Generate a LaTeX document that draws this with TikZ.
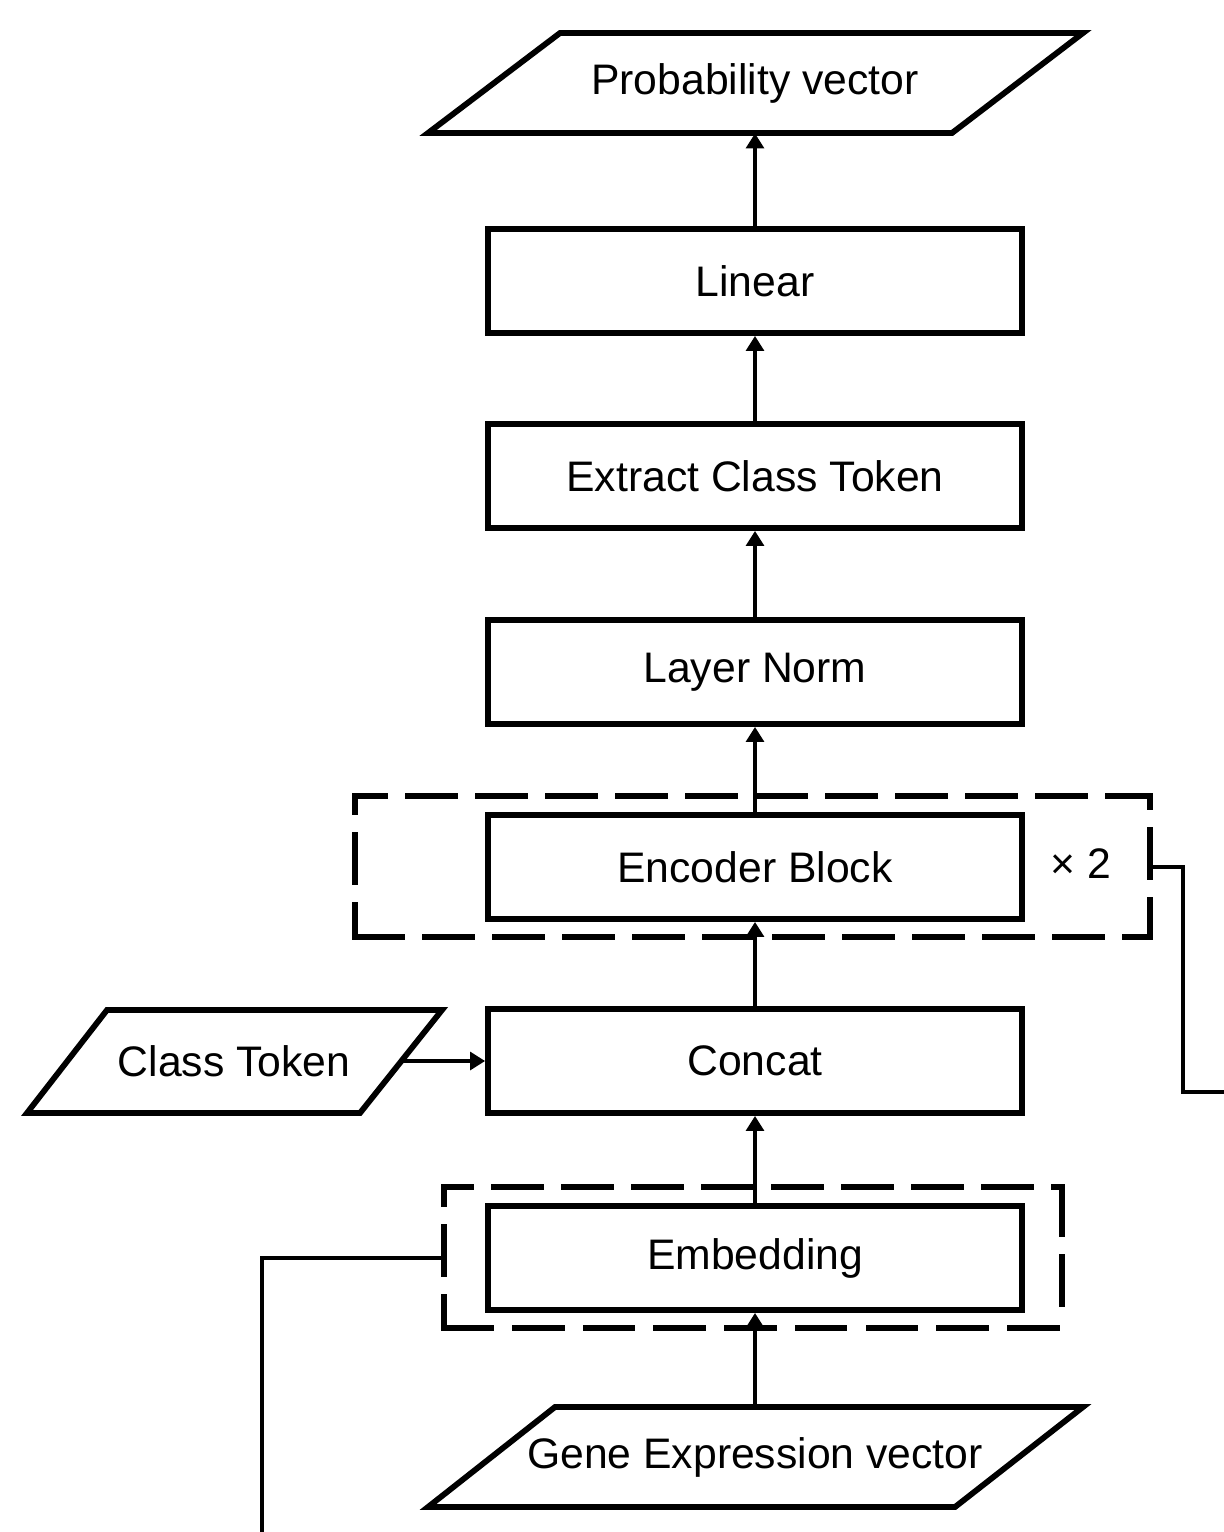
\documentclass[tikz,border=0pt]{standalone}
\usepackage{fontspec}
\setmainfont{Liberation Sans}
\usetikzlibrary{arrows.meta}
\begin{document}
\begin{tikzpicture}[x=0.02cm,y=-0.02cm,
  every node/.style={font=\fontsize{24.3pt}{29pt}\selectfont},
  stagebox/.style={draw,line width=3.3pt,minimum width=10.68cm,minimum height=2.08cm,inner sep=0pt},
  iotext/.style={minimum width=4cm,minimum height=2.0cm,inner sep=0pt},
  shapeline/.style={line width=3.3pt,line join=miter},
  groupside/.style={line width=3.2pt,line cap=rect,dash pattern=on 0.94cm off 0.46cm},
  flow/.style={line width=2.8pt,-{Triangle[length=8.5pt,width=10pt]}},
  link/.style={line width=2.6pt}
]
\useasboundingbox[fill=white] (0,0) rectangle (1224,1532);

% output parallelogram
\draw[shapeline] (560,33) -- (1083,33) -- (952,133) -- (428,133) -- cycle;
\node[iotext] (prob) at (755,83) {Probability vector};

\node[stagebox] (linear) at (755,281) {Linear};
\node[stagebox] (extract) at (755,476) {Extract Class Token};
\node[stagebox] (norm) at (755,672) {Layer Norm};
\node[stagebox] (enc) at (755,867) {Encoder Block};
\node[stagebox] (concat) at (755,1061) {Concat};
\node[stagebox] (emb) at (755,1258) {Embedding};

% dashed group around encoder block
\draw[groupside,dash phase=0.34cm] (355,796) -- (1150,796);
\draw[groupside,dash phase=0.62cm] (355,796) -- (355,937);
\draw[groupside,dash phase=0cm] (355,937) -- (1150,937);
\draw[groupside,dash phase=0.72cm] (1150,796) -- (1150,937);
\coordinate (encgrpR) at (1150,867);
\node (times) at (1081,864) {× 2};

% dashed group around embedding
\draw[groupside,dash phase=0.40cm] (444,1187) -- (1062,1187);
\draw[groupside,dash phase=0.60cm] (444,1187) -- (444,1328);
\draw[groupside,dash pattern=on 0.94cm off 0.475cm] (444,1328) -- (1062,1328);
\draw[groupside,dash phase=0cm] (1062,1187) -- (1062,1320);
\coordinate (embgrpL) at (444,1258);

% class token
\draw[shapeline] (107,1010) -- (442,1010) -- (360,1113) -- (27,1113) -- cycle;
\node[iotext,minimum width=3cm] (cls) at (234,1061) {Class Token};
\coordinate (clsR) at (401,1061);

% gene expression
\draw[shapeline] (555,1407) -- (1083,1407) -- (955,1507) -- (428,1507) -- cycle;
\node[iotext] (gene) at (755,1457) {Gene Expression vector};

% flow arrows
\draw[flow] (gene.north) -- (emb.south);
\draw[flow] (emb.north) -- (concat.south);
\draw[flow] (concat.north) -- (enc.south);
\draw[flow] (enc.north) -- (norm.south);
\draw[flow] (norm.north) -- (extract.south);
\draw[flow] (extract.north) -- (linear.south);
\draw[flow] (linear.north) -- (prob.south);
\draw[flow] (clsR) -- (concat.west);

% outgoing connectors
\coordinate (rightEnd) at (1224,1092);
\coordinate (leftEnd) at (262,1532);
\draw[link] (encgrpR) -- (1183,867) -- (1183,1092) -- (rightEnd);
\draw[link] (embgrpL) -- (262,1258) -- (leftEnd);
\end{tikzpicture}
\end{document}
